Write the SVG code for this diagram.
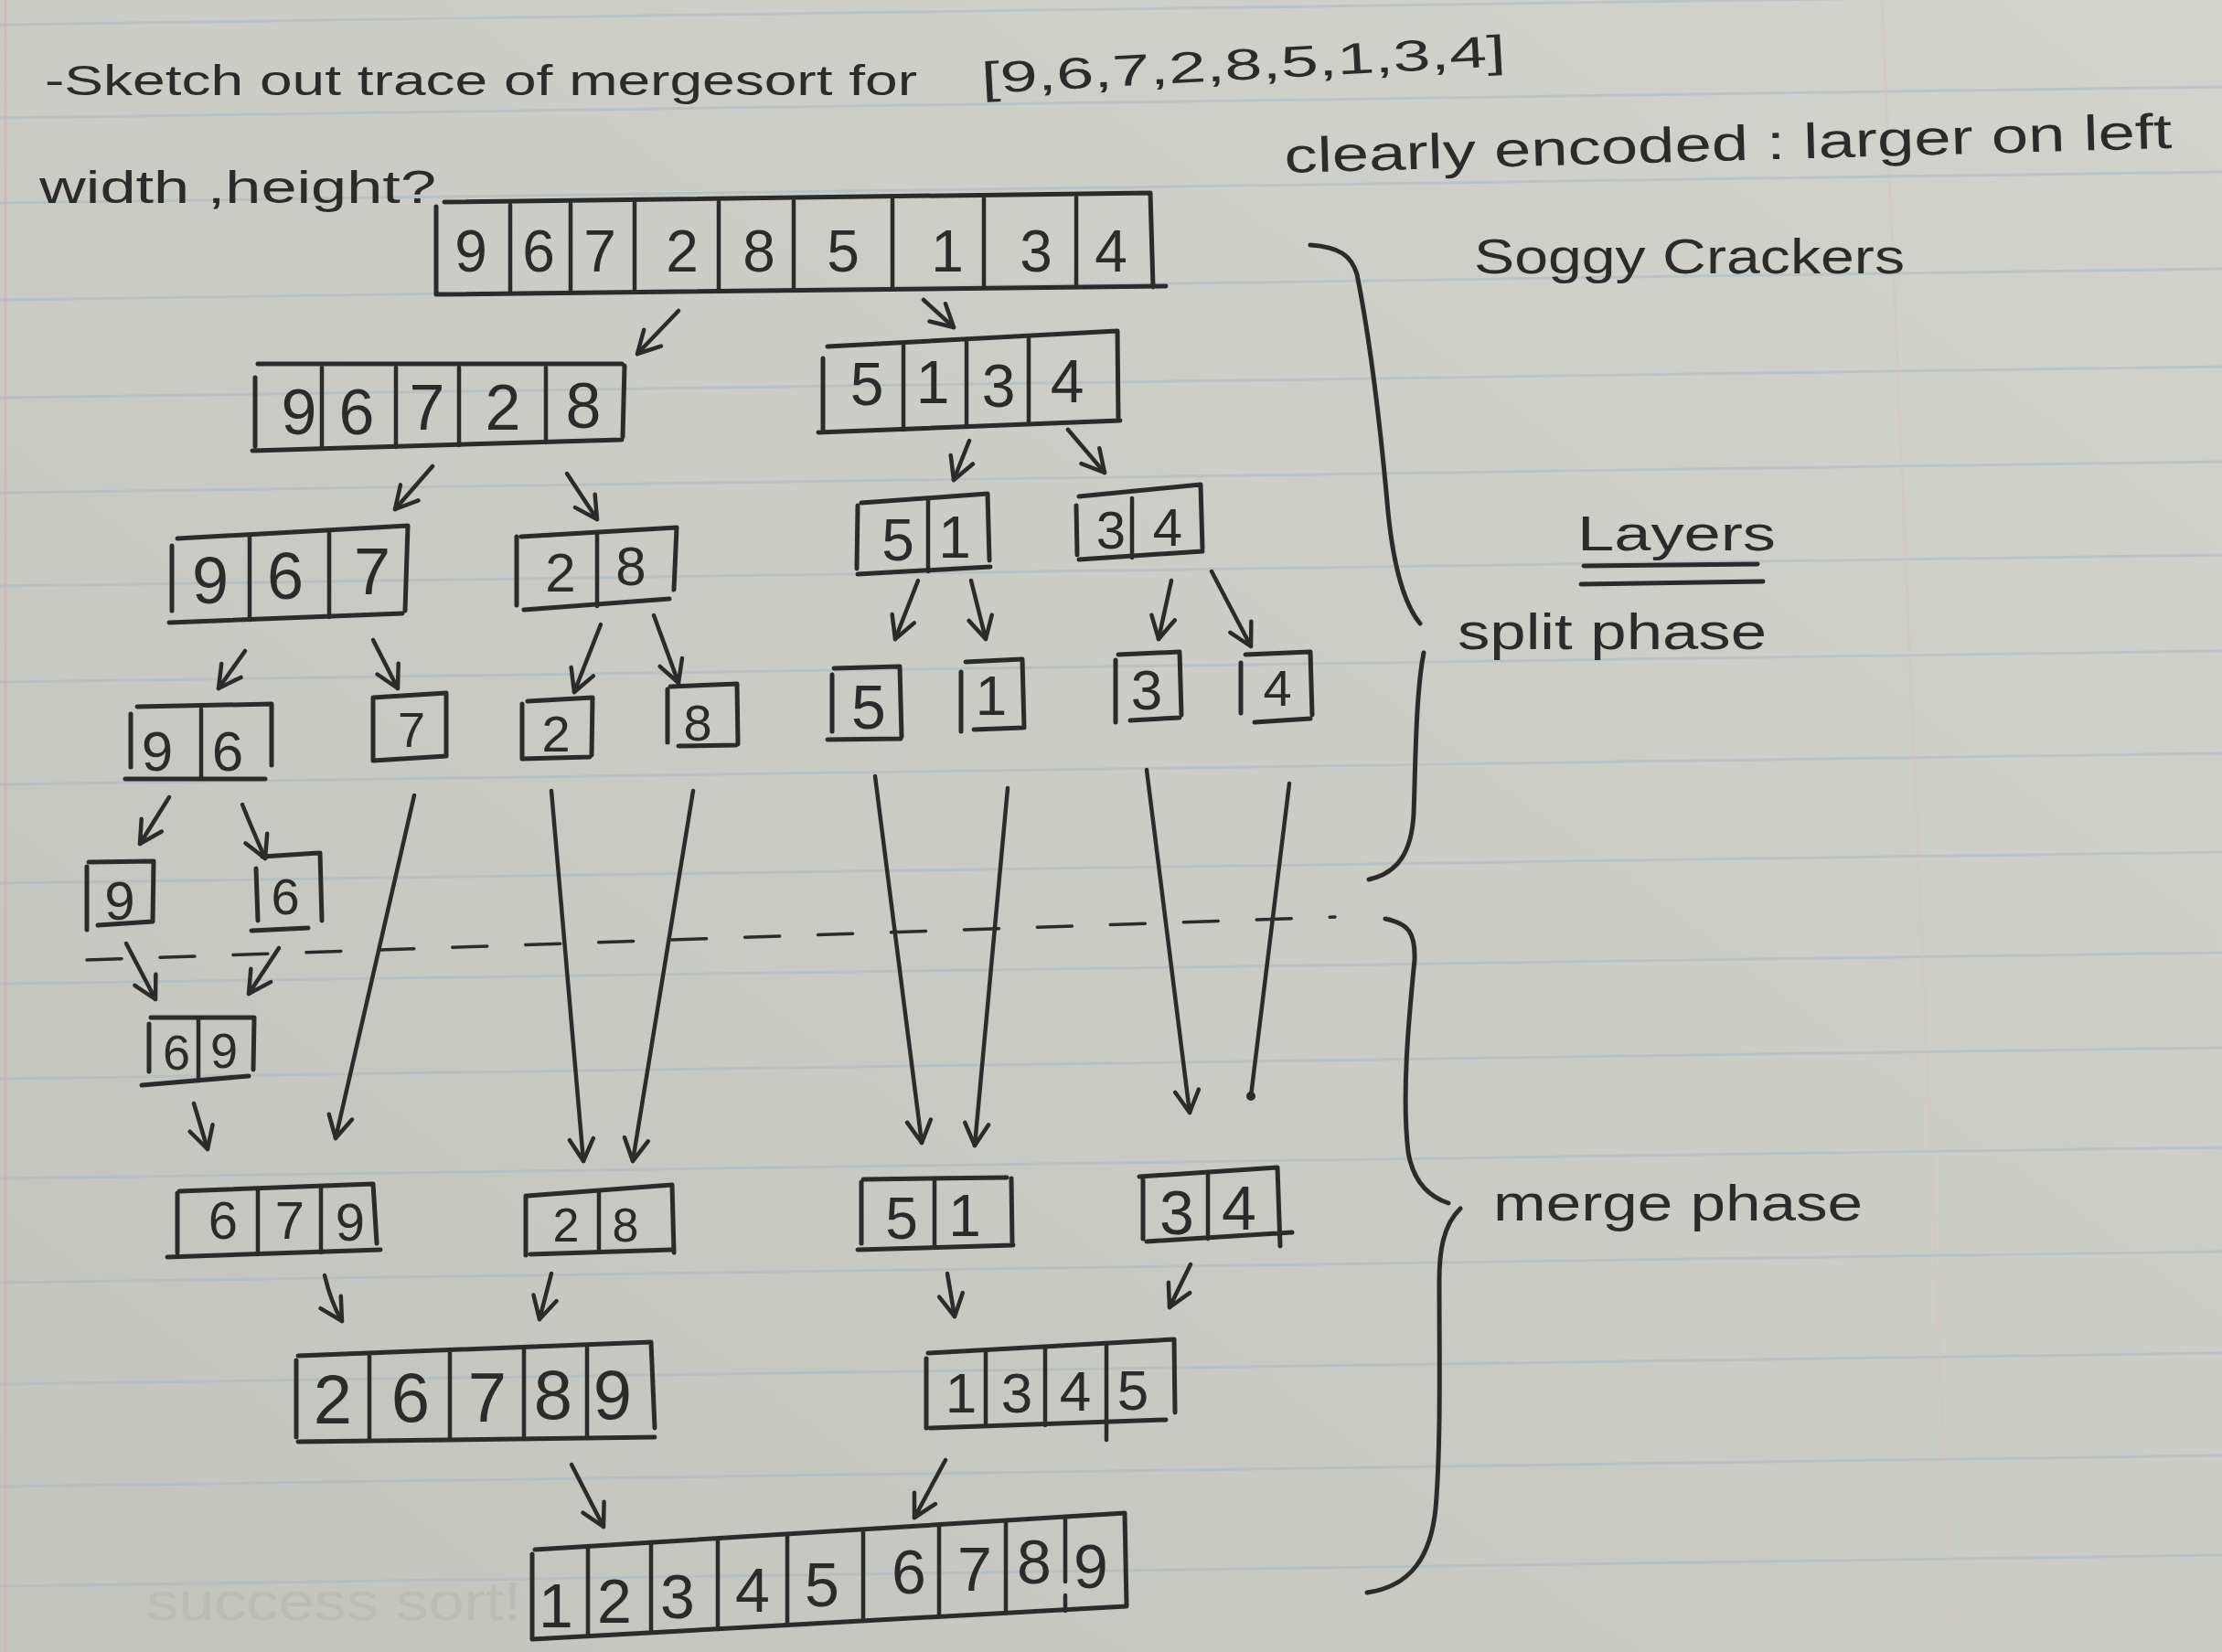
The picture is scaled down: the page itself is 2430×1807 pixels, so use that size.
<svg xmlns="http://www.w3.org/2000/svg" width="2430" height="1807" viewBox="0 0 2430 1807">
<defs>
<linearGradient id="paper" x1="1" y1="0" x2="0" y2="1">
<stop offset="0" stop-color="#d3d3ce"/>
<stop offset="1" stop-color="#c4c4be"/>
</linearGradient>
<marker id="ah" viewBox="-30 -16 34 32" refX="0" refY="0" markerWidth="34" markerHeight="32" markerUnits="userSpaceOnUse" orient="auto">
<path d="M-24,-13 L0,0 L-24,13" fill="none" stroke="#2b2b2b" stroke-width="4.5" stroke-linecap="round" stroke-linejoin="round"/>
</marker>
<style>
.rule{stroke:#a6b8c1;stroke-width:3;opacity:0.5}
.ink{stroke:#2b2b2b;fill:none;stroke-width:5;stroke-linecap:round;stroke-linejoin:round}
.div{stroke:#2b2b2b;fill:none;stroke-width:4.5;stroke-linecap:round}
.d{font-family:"Liberation Sans",Arial,sans-serif;fill:#2b2b2b;text-anchor:middle}
.t{font-family:"Liberation Sans",Arial,sans-serif;fill:#2b2b2b}
.arr{stroke:#2b2b2b;stroke-width:4.5;fill:none;stroke-linecap:round;marker-end:url(#ah)}
.line{stroke:#2b2b2b;stroke-width:4.5;fill:none;stroke-linecap:round}
</style>
</defs>
<rect x="0" y="0" width="2430" height="1807" fill="url(#paper)"/>
<g id="paper-rules">
<line class="rule" x1="0" y1="27" x2="2430" y2="-7"/>
<line class="rule" x1="0" y1="129" x2="2430" y2="95"/>
<line class="rule" x1="0" y1="222" x2="2430" y2="188"/>
<line class="rule" x1="0" y1="328" x2="2430" y2="294"/>
<line class="rule" x1="0" y1="435" x2="2430" y2="401"/>
<line class="rule" x1="0" y1="539" x2="2430" y2="505"/>
<line class="rule" x1="0" y1="641" x2="2430" y2="607"/>
<line class="rule" x1="0" y1="746" x2="2430" y2="712"/>
<line class="rule" x1="0" y1="858" x2="2430" y2="824"/>
<line class="rule" x1="0" y1="966" x2="2430" y2="932"/>
<line class="rule" x1="0" y1="1076" x2="2430" y2="1042"/>
<line class="rule" x1="0" y1="1180" x2="2430" y2="1146"/>
<line class="rule" x1="0" y1="1289" x2="2430" y2="1255"/>
<line class="rule" x1="0" y1="1403" x2="2430" y2="1369"/>
<line class="rule" x1="0" y1="1514" x2="2430" y2="1480"/>
<line class="rule" x1="0" y1="1626" x2="2430" y2="1592"/>
<line class="rule" x1="0" y1="1735" x2="2430" y2="1701"/>
<line x1="6" y1="0" x2="6" y2="1807" stroke="#d3afae" stroke-width="3" opacity="0.6"/>
<line x1="2058" y1="0" x2="2135" y2="1807" stroke="#d6c2c0" stroke-width="3" opacity="0.4"/>
</g>

<g id="notes">
<text class="t" x="49" y="104" font-size="46" textLength="954" lengthAdjust="spacingAndGlyphs">-Sketch out trace of mergesort for</text>
<text class="t" x="1074" y="102" font-size="48" textLength="574" lengthAdjust="spacingAndGlyphs" transform="rotate(-3 1074 102)">[9,6,7,2,8,5,1,3,4]</text>
<text class="t" x="43" y="222" font-size="50" textLength="434" lengthAdjust="spacingAndGlyphs">width ,height?</text>
<text class="t" x="1405" y="189" font-size="54" textLength="971" lengthAdjust="spacingAndGlyphs" transform="rotate(-1.6 1405 189)">clearly encoded : larger on left</text>
<text class="t" x="1612" y="299" font-size="54" textLength="471" lengthAdjust="spacingAndGlyphs">Soggy Crackers</text>
<text class="t" x="1725" y="602" font-size="54" textLength="217" lengthAdjust="spacingAndGlyphs">Layers</text>
<path class="ink" d="M1732,619 L1922,617 M1729,639 L1928,636"/>
<text class="t" x="1594" y="710" font-size="56" textLength="338" lengthAdjust="spacingAndGlyphs">split phase</text>
<text class="t" x="1633" y="1335" font-size="56" textLength="404" lengthAdjust="spacingAndGlyphs">merge phase</text>
<text x="160" y="1772" font-family="Liberation Sans, Arial, sans-serif" font-size="60" fill="#bcbcb6" textLength="410" lengthAdjust="spacingAndGlyphs">success sort!</text>
<path class="ink" d="M1433,268 C1465,270 1478,280 1484,300 C1500,380 1510,470 1518,560 C1524,620 1535,660 1553,682"/>
<path class="ink" d="M1557,714 C1548,760 1548,840 1546,890 C1544,930 1530,955 1497,962"/>
<path class="ink" d="M1515,1005 C1540,1010 1548,1020 1547,1050 C1540,1120 1533,1200 1540,1260 C1545,1290 1560,1308 1584,1316"/>
<path class="ink" d="M1597,1322 C1578,1340 1574,1370 1574,1400 C1574,1480 1576,1580 1570,1650 C1565,1700 1545,1735 1495,1742"/>
<line x1="95" y1="1050" x2="1460" y2="1003" stroke="#2b2b2b" stroke-width="3.5" stroke-dasharray="38 42" stroke-linecap="round"/>
</g>

<g id="n1">
<path class="ink" d="M486,221 L1258,211 L1261,314 M477,226 L477,322 L1275,313"/>
<path class="div" d="M558,224 L558,318 M624,223 L624,318 M694,222 L694,317 M786,221 L786,316 M868,220 L868,315 M976,218 L976,314 M1076,217 L1076,313 M1177,216 L1177,312"/>
<g class="d" font-size="64"><text x="515" y="297">9</text><text x="589" y="297">6</text><text x="656" y="297">7</text><text x="746" y="297">2</text><text x="830" y="297">8</text><text x="922" y="297">5</text><text x="1036" y="297">1</text><text x="1133" y="297">3</text><text x="1215" y="297">4</text></g>
</g>
<g id="n2">
<path class="ink" d="M282,398 L680,398 M683,400 L681,478 M279,413 L279,488 M276,493 L680,481"/>
<path class="div" d="M352,402 L352,490 M433,402 L433,489 M502,402 L502,487 M597,402 L597,484"/>
<g class="d" font-size="70"><text x="327" y="475">9</text><text x="390" y="475">6</text><text x="467" y="470">7</text><text x="550" y="470">2</text><text x="638" y="468">8</text></g>
</g>
<g id="n3">
<path class="ink" d="M905,379 L1222,362 L1223,458 M900,392 L900,470 M895,473 L1225,460"/>
<path class="div" d="M988,377 L988,470 M1057,374 L1057,467 M1125,370 L1125,463"/>
<g class="d" font-size="66"><text x="948" y="443">5</text><text x="1020" y="441">1</text><text x="1092" y="445">3</text><text x="1167" y="440">4</text></g>
</g>
<g id="n4">
<path class="ink" d="M194,589 L446,575 L443,668 M188,597 L188,668 M185,681 L440,671"/>
<path class="div" d="M273,585 L273,678 M360,582 L360,675"/>
<g class="d" font-size="72"><text x="230" y="660">9</text><text x="312" y="655">6</text><text x="407" y="650">7</text></g>
</g>
<g id="n5">
<path class="ink" d="M570,587 L740,577 L737,645 M565,587 L565,662 M573,667 L732,655"/>
<path class="div" d="M653,582 L653,663"/>
<g class="d" font-size="60"><text x="613" y="647">2</text><text x="690" y="640">8</text></g>
</g>
<g id="n6">
<path class="ink" d="M942,550 L1080,540 L1082,613 M938,553 L937,622 M938,628 L1083,620"/>
<path class="div" d="M1015,545 L1015,625"/>
<g class="d" font-size="64"><text x="982" y="613">5</text><text x="1044" y="610">1</text></g>
</g>
<g id="n7">
<path class="ink" d="M1180,543 L1313,530 L1315,600 M1177,553 L1178,607 M1180,612 L1315,603"/>
<path class="div" d="M1238,545 L1238,610"/>
<g class="d" font-size="58"><text x="1215" y="600">3</text><text x="1277" y="597">4</text></g>
</g>
<g id="n8">
<path class="ink" d="M150,773 L297,770 L297,837 M143,781 L143,839 M137,852 L290,852"/>
<path class="div" d="M220,776 L220,850"/>
<g class="d" font-size="62"><text x="172" y="843">9</text><text x="249" y="843">6</text></g>
</g>
<g id="n9">
<path class="ink" d="M408,763 L488,758 L488,827 M408,765 L408,832 L488,827"/>
<text class="d" font-size="54" x="450" y="817">7</text>
</g>
<g id="n10">
<path class="ink" d="M577,767 L648,763 L647,826 M571,770 L571,830 L645,828"/>
<text class="d" font-size="56" x="608" y="822">2</text>
</g>
<g id="n11">
<path class="ink" d="M733,751 L806,748 L807,814 M730,754 L730,812 M742,816 L805,815"/>
<text class="d" font-size="56" x="763" y="810">8</text>
</g>
<g id="n12">
<path class="ink" d="M912,731 L984,729 L986,806 M910,738 L910,800 M905,809 L985,808"/>
<text class="d" font-size="68" x="950" y="797">5</text>
</g>
<g id="n13">
<path class="ink" d="M1056,724 L1118,721 L1120,796 M1051,735 L1051,800 M1065,798 L1118,796"/>
<text class="d" font-size="62" x="1084" y="782">1</text>
</g>
<g id="n14">
<path class="ink" d="M1223,716 L1290,713 L1292,782 M1220,722 L1220,790 M1236,788 L1290,785"/>
<text class="d" font-size="62" x="1254" y="776">3</text>
</g>
<g id="n15">
<path class="ink" d="M1362,716 L1433,713 L1435,782 M1357,725 L1357,780 M1372,790 L1433,786"/>
<text class="d" font-size="56" x="1397" y="772">4</text>
</g>
<g id="n16">
<path class="ink" d="M97,943 L168,942 L167,1008 L107,1012 M95,948 L95,1017"/>
<text class="d" font-size="60" x="131" y="1006">9</text>
</g>
<g id="n17">
<path class="ink" d="M287,937 L348,933 M350,933 L352,1007 M280,950 L282,1007 M275,1018 L337,1015"/>
<text class="d" font-size="56" x="312" y="1000">6</text>
</g>
<g id="n18">
<path class="ink" d="M165,1113 L278,1113 L277,1170 M163,1120 L163,1172 M155,1187 L272,1177"/>
<path class="div" d="M217,1113 L217,1182"/>
<g class="d" font-size="54"><text x="193" y="1170">6</text><text x="245" y="1168">9</text></g>
</g>
<g id="n19">
<path class="ink" d="M196,1303 L408,1295 L412,1360 M194,1305 L194,1370 M183,1375 L416,1367"/>
<path class="div" d="M282,1302 L282,1372 M351,1300 L351,1370"/>
<g class="d" font-size="58"><text x="244" y="1355">6</text><text x="317" y="1355">7</text><text x="383" y="1357">9</text></g>
</g>
<g id="n20">
<path class="ink" d="M577,1308 L735,1296 L737,1370 M575,1308 L575,1373 M580,1372 L734,1367"/>
<path class="div" d="M655,1305 L655,1368"/>
<g class="d" font-size="52"><text x="619" y="1358">2</text><text x="684" y="1358">8</text></g>
</g>
<g id="n21">
<path class="ink" d="M944,1290 L1101,1288 M1106,1289 L1107,1360 M942,1293 L942,1360 M938,1367 L1108,1362"/>
<path class="div" d="M1022,1290 L1022,1362"/>
<g class="d" font-size="64"><text x="986" y="1355">5</text><text x="1055" y="1352">1</text></g>
</g>
<g id="n22">
<path class="ink" d="M1246,1287 L1397,1277 L1400,1363 M1250,1290 L1250,1355 M1254,1358 L1413,1348"/>
<path class="div" d="M1321,1283 L1321,1355"/>
<g class="d" font-size="68"><text x="1287" y="1350">3</text><text x="1355" y="1345">4</text></g>
</g>
<g id="n23">
<path class="ink" d="M326,1483 L712,1468 L716,1562 M324,1488 L324,1572 M326,1577 L716,1572"/>
<path class="div" d="M404,1482 L404,1576 M492,1479 L492,1575 M573,1476 L573,1574 M642,1474 L642,1573"/>
<g class="d" font-size="76"><text x="364" y="1557">2</text><text x="449" y="1555">6</text><text x="533" y="1555">7</text><text x="605" y="1552">8</text><text x="670" y="1552">9</text></g>
</g>
<g id="n24">
<path class="ink" d="M1015,1480 L1284,1465 L1285,1545 M1013,1486 L1013,1562 M1017,1562 L1275,1553"/>
<path class="div" d="M1078,1478 L1078,1560 M1143,1475 L1143,1559 M1210,1471 L1210,1575"/>
<g class="d" font-size="62"><text x="1051" y="1545">1</text><text x="1112" y="1545">3</text><text x="1176" y="1543">4</text><text x="1239" y="1542">5</text></g>
</g>
<g id="n25">
<path class="ink" d="M585,1695 L1230,1655 L1232,1757 M582,1700 L582,1793 L1232,1757"/>
<path class="div" d="M643,1691 L643,1790 M712,1687 L712,1786 M785,1683 L785,1782 M861,1678 L861,1778 M944,1673 L944,1773 M1027,1668 L1027,1768 M1100,1663 L1100,1764 M1165,1659 L1165,1730 M1165,1745 L1165,1762"/>
<g class="d" font-size="68"><text x="608" y="1780">1</text><text x="672" y="1775">2</text><text x="741" y="1770">3</text><text x="823" y="1763">4</text><text x="899" y="1757">5</text><text x="994" y="1743">6</text><text x="1066" y="1740">7</text><text x="1131" y="1732">8</text><text x="1193" y="1737">9</text></g>
</g>

<g id="connectors">
<path class="arr" d="M742,340 L697,387"/>
<path class="arr" d="M1010,328 L1043,358"/>
<path class="arr" d="M473,510 L432,557"/>
<path class="arr" d="M620,518 L653,568"/>
<path class="arr" d="M1060,482 L1043,525"/>
<path class="arr" d="M1168,470 L1208,517"/>
<path class="arr" d="M268,712 L239,753"/>
<path class="arr" d="M408,700 L435,753"/>
<path class="arr" d="M657,683 L628,757"/>
<path class="arr" d="M715,673 L742,747"/>
<path class="arr" d="M1004,635 L979,699"/>
<path class="arr" d="M1062,635 L1078,699"/>
<path class="arr" d="M1281,635 L1267,699"/>
<path class="arr" d="M1325,625 L1368,707"/>
<path class="arr" d="M185,872 L153,923"/>
<path class="arr" d="M265,880 Q275,905 290,939"/>
<path class="arr" d="M138,1032 L170,1093"/>
<path class="arr" d="M305,1037 L272,1087"/>
<path class="arr" d="M212,1207 L227,1257"/>
<path class="arr" d="M453,870 L367,1245"/>
<path class="arr" d="M603,865 L638,1270"/>
<path class="arr" d="M758,865 L692,1270"/>
<path class="arr" d="M957,849 L1008,1250"/>
<path class="arr" d="M1102,862 L1066,1253"/>
<path class="arr" d="M1254,842 L1301,1217"/>
<path class="line" d="M1410,857 L1368,1199"/>
<circle cx="1368" cy="1199" r="5" fill="#2b2b2b"/>
<path class="arr" d="M355,1395 Q362,1425 374,1445"/>
<path class="arr" d="M603,1393 L590,1443"/>
<path class="arr" d="M1036,1393 L1044,1440"/>
<path class="arr" d="M1302,1383 L1279,1430"/>
<path class="arr" d="M625,1602 L660,1670"/>
<path class="arr" d="M1034,1597 L1000,1660"/>
</g>
</svg>
